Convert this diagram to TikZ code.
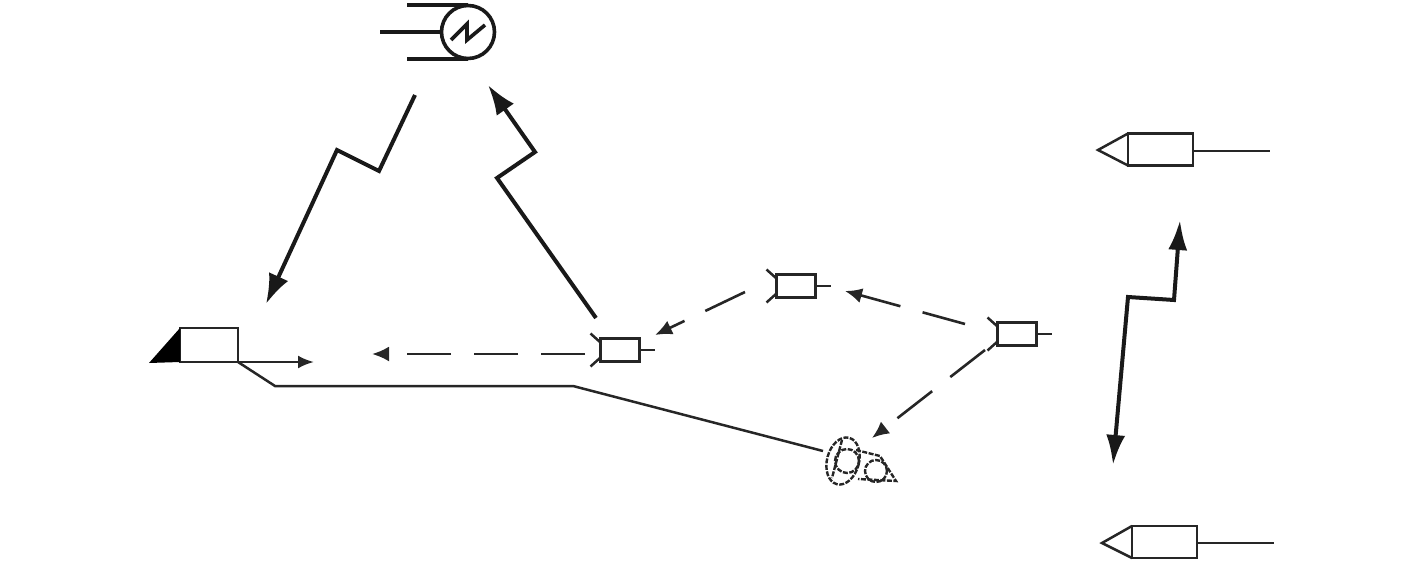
\documentclass[tikz,border=0pt]{standalone}
\usetikzlibrary{arrows.meta,shapes.geometric,calc}
\tikzset{
  x=1pt,y=-1pt,
  thinline/.style={line width=2.5pt,black!85},
  thickline/.style={line width=4pt,black!90,line join=miter},
  hd/.style={-{Latex[length=16pt,width=13pt]}},
  bighd/.style={-{Latex[length=30pt,width=21pt]}},
  dashline/.style={line width=2.6pt,black!85,dash pattern=on 44pt off 23pt},
  dashhd/.style={-{Latex[length=17pt,width=15pt]}},
  boxn/.style={draw,line width=2.8pt,black!85,fill=white,inner sep=0pt,outer sep=0pt,rectangle},
  smallbox/.style={boxn,minimum width=39pt,minimum height=23pt},
  largebox/.style={boxn,minimum width=65pt,minimum height=32pt},
  leftbox/.style={boxn,minimum width=58pt,minimum height=34pt},
  dot/.style={coordinate},
  satline/.style={line width=3.6pt,black!90},
}
\begin{document}
\begin{tikzpicture}
\useasboundingbox (0,0) rectangle (1417,567);

% top satellite
\coordinate (sattop) at (407,5);
\coordinate (satbot) at (407,59);
\coordinate (satmid) at (380,32);
\draw[satline] (sattop) -- (468,5);
\draw[satline] (satbot) -- (468,59);
\node[circle,draw,satline,inner sep=0pt,outer sep=0pt,minimum size=53pt,fill=white] (sat) at (468,32) {};
\draw[satline] (satmid) -- (sat.west);
\draw[satline] (451,40) -- (467,24) -- (467,40) -- (485,25);

% left terminal
\node[leftbox] (term) at (209,345) {};
\node[dot] (termtip) at (149,363) {};
\fill (termtip) -- (term.south west) -- (term.north west) -- cycle;
\node[dot] (termout) at (314,362) {};
\draw[thinline,hd] (term.south east) -- (termout);
\node[dot] (b1) at (275,386) {};
\node[dot] (b2) at (573,386) {};
\node[dot] (lnend) at (823,451) {};
\draw[thinline] (term.south east) -- (b1) -- (b2) -- (lnend);

% small boxes
\node[smallbox] (m1) at (620,350) {};
\node[smallbox] (m2) at (796,286) {};
\node[smallbox] (m3) at (1017,334) {};
\foreach \n in {m1,m2,m3}{
  \draw[thinline] ($(\n.north west)+(0,4)$) -- ++(-10,-9);
  \draw[thinline] ($(\n.south west)+(0,-4)$) -- ++(-10,9);
  \draw[thinline] (\n.east) -- ++(15,0);
}

% big zigzag links
\node[dot] (z1a) at (415,95) {};
\node[dot] (z1b) at (379,171) {};
\node[dot] (z1c) at (337,150) {};
\node[dot] (z1d) at (266,304) {};
\draw[thickline,bighd] (z1a) -- (z1b) -- (z1c) -- (z1d);

\node[dot] (z2a) at (596,318) {};
\node[dot] (z2b) at (497,178) {};
\node[dot] (z2c) at (535,152) {};
\node[dot] (z2d) at (488,85) {};
\draw[thickline,bighd] (z2a) -- (z2b) -- (z2c) -- (z2d);

\node[dot] (z3a) at (1180,220) {};
\node[dot] (z3b) at (1174,300) {};
\node[dot] (z3c) at (1128,297) {};
\node[dot] (z3d) at (1113,465) {};
\draw[thickline,{Latex[length=30pt,width=19pt]}-{Latex[length=30pt,width=19pt]}] (z3a) -- (z3b) -- (z3c) -- (z3d);

% dashed links
\node[dot] (d1a) at (585,354) {};
\node[dot] (d1b) at (372,354) {};
\draw[dashline,dashhd] (d1a) -- (d1b);
\node[dot] (d2a) at (745,292) {};
\node[dot] (d2b) at (655,335) {};
\draw[dashline,dashhd] (d2a) -- (d2b);
\node[dot] (d3a) at (965,324) {};
\node[dot] (d3b) at (845,291) {};
\draw[dashline,dashhd] (d3a) -- (d3b);
\node[dot] (d4a) at (985,350) {};
\node[dot] (d4b) at (872,438) {};
\draw[dashline,dashhd] (d4a) -- (d4b);

% right terminals
\node[largebox] (r1) at (1160.5,149.5) {};
\node[dot] (r1tip) at (1098,150) {};
\node[dot] (r1end) at (1270,151) {};
\draw[thinline] (r1.north west) -- (r1tip) -- (r1.south west);
\draw[thinline] (r1.east |- r1end) -- (r1end);
\node[largebox] (r2) at (1164.5,542) {};
\node[dot] (r2tip) at (1102,543) {};
\node[dot] (r2end) at (1274,543) {};
\draw[thinline] (r2.north west) -- (r2tip) -- (r2.south west);
\draw[thinline] (r2.east |- r2end) -- (r2end);

% hatched dish
\begin{scope}[line width=2.4pt,black!85,dash pattern=on 5pt off 1.5pt]
\draw[rotate around={-15:(843,461)}] (843,461) ellipse (16pt and 24pt);
\draw (847,461) circle (12pt);
\draw (876,471) circle (11pt);
\draw (856,450) -- (880,456) -- (896,481) -- (858,479);
\draw (842,440) -- (832,478);
\end{scope}
\end{tikzpicture}
\end{document}
